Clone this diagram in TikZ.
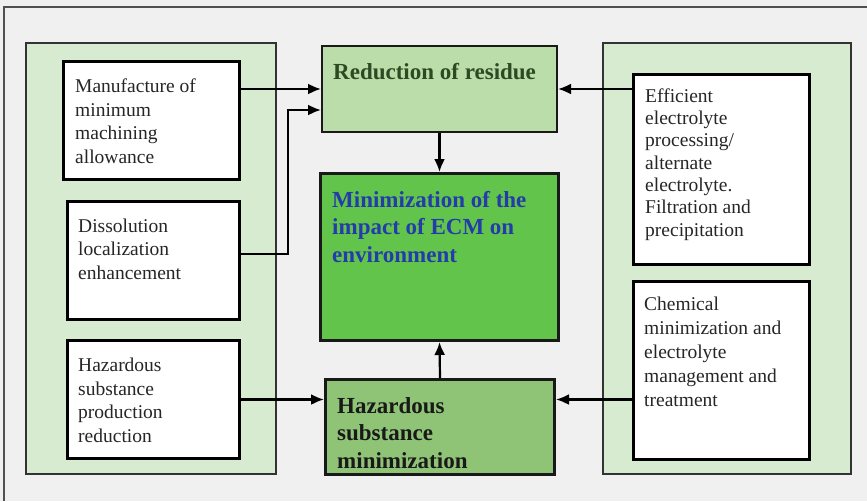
\documentclass[tikz,border=0pt]{standalone}
\usepackage{fontspec}
\setmainfont{Liberation Serif}
\usetikzlibrary{arrows.meta}
\definecolor{pagebg}{RGB}{240,240,240}
\definecolor{framegray}{RGB}{80,80,80}
\definecolor{panelgreen}{RGB}{214,235,208}
\definecolor{residuegreen}{RGB}{186,221,170}
\definecolor{impactgreen}{RGB}{99,196,76}
\definecolor{hazgreen}{RGB}{143,196,119}
\definecolor{impactblue}{RGB}{35,60,170}
\definecolor{residuetext}{RGB}{45,75,35}
\tikzset{
  panel/.style={draw=black!80, line width=1.5pt, fill=panelgreen, anchor=north west, inner sep=0pt},
  itembox/.style={draw=black, line width=3pt, fill=white, anchor=north west, inner sep=0pt},
  goalbox/.style={draw=black!90, line width=2.5pt, anchor=north west, inner sep=0pt},
  % texts are placed by the baseline of their last line
  itemtext/.style={anchor=base west, inner sep=0pt, align=left, font=\fontsize{19.5}{23.5}\selectfont, text=black!85},
  goaltext/.style={anchor=base west, inner sep=0pt, align=left, font=\bfseries\fontsize{23}{27.3}\selectfont},
  link/.style={line width=2.2pt, -{Latex[length=13pt,width=11pt]}}
}
\begin{document}
\begin{tikzpicture}[x=1pt,y=-1pt]
  % page background and frame
  \path[use as bounding box, fill=pagebg] (0,0) rectangle (867,501);
  \draw[framegray, line width=1.5pt] (4,501) -- (4,7) -- (867,7);

  % side panels
  \node[panel, minimum width=250pt, minimum height=431pt] (lpanel) at (25,42) {};
  \node[panel, minimum width=248pt, minimum height=431pt] (rpanel) at (602,42) {};

  % left items
  \node[itembox, minimum width=176pt, minimum height=118pt] (b1) at (62,60) {};
  \node[itembox, minimum width=172pt, minimum height=118pt] (b2) at (66,200) {};
  \node[itembox, minimum width=172pt, minimum height=118pt] (b3) at (66,339) {};
  \node[itemtext] (t1) at (75,163) {Manufacture of\\minimum\\machining\\allowance};
  \node[itemtext] (t2) at (78,279) {Dissolution\\localization\\enhancement};
  \node[itemtext] (t3) at (78,442) {Hazardous\\substance\\production\\reduction};

  % right items
  \node[itembox, minimum width=176pt, minimum height=190pt] (r1) at (632,73) {};
  \node[itembox, minimum width=176pt, minimum height=178pt] (r2) at (632,280) {};
  \node[itemtext, font=\fontsize{19.5}{22.3}\selectfont] (t4) at (645,236)
    {Efficient\\electrolyte\\processing/\\alternate\\electrolyte.\\Filtration and\\precipitation};
  \node[itemtext, font=\fontsize{19.5}{23.9}\selectfont] (t5) at (644,406)
    {Chemical\\minimization and\\electrolyte\\management and\\treatment};

  % central goals
  \node[goalbox, line width=2pt, fill=residuegreen, minimum width=235pt, minimum height=86pt] (res) at (321,45) {};
  \node[goalbox, line width=3pt, fill=impactgreen, minimum width=238pt, minimum height=167pt] (imp) at (319,172) {};
  \node[goalbox, line width=3pt, fill=hazgreen, minimum width=229pt, minimum height=95pt] (haz) at (324,378) {};
  \node[goaltext, text=residuetext] (tres) at (333,79) {Reduction of residue};
  \node[goaltext, text=impactblue] (timp) at (332,262) {Minimization of the\\impact of ECM on\\environment};
  \node[goaltext, text=black!90] (thaz) at (337,468) {Hazardous\\substance\\minimization};

  % connectors
  \coordinate (j1) at (288,254);
  \coordinate (j2) at (288,110);
  \draw[link] (b1.east |- res.west) -- (res.west);
  \draw[link] (b2.east |- j1) -- (j1) -- (j2) -- (res.west |- j2);
  \draw[link] (r1.west |- res.east) -- (res.east);
  \draw[link] (res.south) -- (imp.north);
  \draw[link] (haz.north) -- (imp.south);
  \draw[link] (b3.east) -- (b3.east -| haz.west);
  \draw[link] (r2.west |- b3.east) -- (b3.east -| haz.east);
\end{tikzpicture}
\end{document}
